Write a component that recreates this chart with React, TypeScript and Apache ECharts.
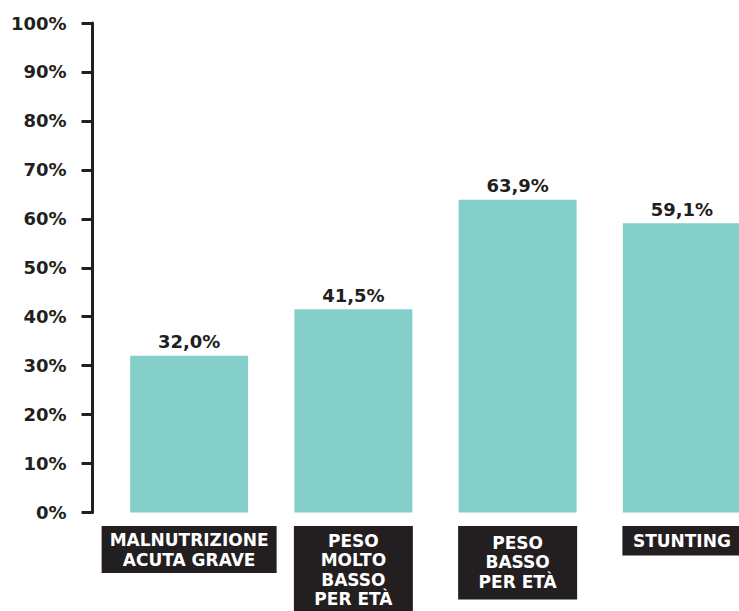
import React, { useEffect, useRef } from "react";
import * as echarts from "echarts";

const categories = [
  "MALNUTRIZIONE\nACUTA GRAVE",
  "PESO\nMOLTO\nBASSO\nPER ETÀ",
  "PESO\nBASSO\nPER ETÀ",
  "STUNTING",
];
const values = [32.0, 41.5, 63.9, 59.1];
const yMin = 0;
const yMax = 100;
const yInterval = 10;

const dark = "#231f20";
const teal = "#84cfca";
const font = "DejaVu Sans";

const labelStyles = [
  { width: 163, lineHeight: 20, padding: [4, 6, 3, 6] },
  { width: 107, lineHeight: 19.5, padding: [5, 6, 6, 6] },
  { width: 107, lineHeight: 19.5, padding: [7, 6, 8, 6] },
  { width: 107, lineHeight: 19.5, padding: [5, 6, 5, 6] },
];

export default function App() {
  const ref = useRef<HTMLDivElement>(null);
  useEffect(() => {
    if (!ref.current) return;
    const chart = echarts.init(ref.current, undefined, { renderer: "svg" });
    chart.setOption({
      animation: false,
      backgroundColor: "#ffffff",
      grid: {
        left: 107,
        top: 23,
        width: 657,
        bottom: 98.5,
        containLabel: false,
        outerBoundsMode: "none",
      },
      xAxis: {
        type: "category",
        data: categories.map((c, i) => ({
          value: c,
          textStyle: {
            width: labelStyles[i].width,
            lineHeight: labelStyles[i].lineHeight,
            padding: labelStyles[i].padding,
            align: "center",
          },
        })),
        axisLine: { show: false },
        axisTick: { show: false },
        axisLabel: {
          interval: 0,
          margin: 13.5,
          color: "#ffffff",
          backgroundColor: dark,
          fontFamily: font,
          fontWeight: "bold",
          fontSize: 17,
          verticalAlign: "top",
        },
      },
      yAxis: {
        type: "value",
        min: yMin,
        max: yMax,
        interval: yInterval,
        offset: 14.5,
        splitLine: { show: false },
        axisLine: { show: true, lineStyle: { color: dark, width: 3 } },
        axisTick: { show: true, length: 11, lineStyle: { color: dark, width: 3 } },
        axisLabel: {
          margin: 26,
          color: dark,
          fontFamily: font,
          fontWeight: "bold",
          fontSize: 18,
          formatter: "{value}%",
        },
      },
      series: [
        {
          type: "bar",
          data: values,
          barWidth: 118,
          itemStyle: { color: teal },
          label: {
            show: true,
            position: "top",
            distance: 5,
            color: dark,
            fontFamily: font,
            fontWeight: "bold",
            fontSize: 18,
            formatter: (p: any) => p.value.toFixed(1).replace(".", ",") + "%",
          },
        },
      ],
    });
    return () => chart.dispose();
  }, []);
  return (
    <div
      ref={ref}
      style={{ position: "absolute", left: 0, top: 0, width: 739, height: 611, background: "#fff" }}
    />
  );
}
